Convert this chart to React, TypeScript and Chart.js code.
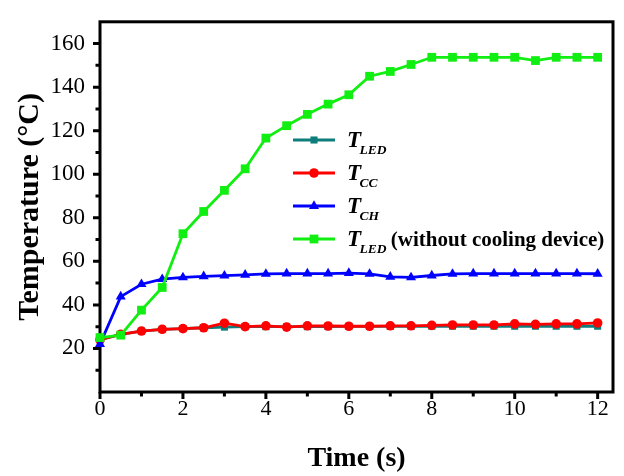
import { useEffect, useRef } from 'react';
import { Chart, registerables } from 'chart.js';

Chart.register(...registerables);

// ---- data ----
const timeS = [0, 0.5, 1, 1.5, 2, 2.5, 3, 3.5, 4, 4.5, 5, 5.5, 6, 6.5, 7, 7.5, 8, 8.5, 9, 9.5, 10, 10.5, 11, 11.5, 12];
const tLED = [24, 26.5, 28, 28.8, 29.1, 29.5, 29.8, 30, 30, 30, 30, 30, 30.1, 30.1, 30.1, 30.1, 30.2, 30.2, 30.2, 30.2, 30.2, 30.2, 30.2, 30.2, 30.2];
const tCC = [24, 26.5, 28, 28.8, 29.1, 29.5, 31.6, 30, 30.4, 29.8, 30.4, 30.3, 30.2, 30.2, 30.4, 30.4, 30.6, 30.8, 30.8, 30.8, 31.3, 31.1, 31.3, 31.3, 31.7];
const tCH = [22, 43.8, 49.5, 51.8, 52.6, 53.1, 53.4, 53.8, 54.2, 54.4, 54.4, 54.4, 54.6, 54.2, 52.9, 52.6, 53.5, 54.2, 54.4, 54.4, 54.4, 54.4, 54.4, 54.4, 54.3];
const tLEDNoCooling = [25, 26.1, 37.6, 48, 72.7, 82.9, 92.6, 102.5, 116.6, 122.3, 127.5, 132.2, 136.5, 145, 147.2, 150.4, 153.7, 153.7, 153.7, 153.7, 153.7, 152.2, 153.7, 153.7, 153.7];

const legendMain = ['T', 'T', 'T', 'T'];
const legendSub = ['LED', 'CC', 'CH', 'LED'];
const legendSuffix = ['', '', '', ' (without cooling device)'];

const yTickValues = [20, 40, 60, 80, 100, 120, 140, 160];
const yMinorValues = [10, 30, 50, 70, 90, 110, 130, 150];
const xTickValues = [0, 2, 4, 6, 8, 10, 12];
const xMinorValues = [1, 3, 5, 7, 9, 11];

const xTitle = 'Time (s)';
const yTitle = 'Temperature (°C)';

const colors = ['#0E7D7C', '#FF0000', '#0000FF', '#11EE11'];
const pointStyles = ['rect', 'circle', 'triangle', 'rect'];
const pointRadii = [5, 4.8, 5.8, 6.2];

const SERIF = "'Liberation Serif', 'DejaVu Serif', serif";

function drawMarker(ctx: CanvasRenderingContext2D, style: string, x: number, y: number, r: number, color: string) {
  ctx.save();
  ctx.fillStyle = color;
  ctx.beginPath();
  if (style === 'rect') {
    const s = Math.SQRT1_2 * r;
    ctx.rect(x - s, y - s, 2 * s, 2 * s);
  } else if (style === 'circle') {
    ctx.arc(x, y, r, 0, Math.PI * 2);
  } else {
    const h = r * 1.5;
    const w = r * Math.sqrt(3) / 2;
    ctx.moveTo(x, y - r);
    ctx.lineTo(x + w, y + h - r);
    ctx.lineTo(x - w, y + h - r);
    ctx.closePath();
  }
  ctx.fill();
  ctx.restore();
}

const framePlugin = {
  id: 'frameTicks',
  beforeDatasetsDraw(chart: any) {
    const { ctx, chartArea } = chart;
    const xs = chart.scales.x;
    const ys = chart.scales.y;
    ctx.save();
    ctx.strokeStyle = '#000';
    ctx.lineWidth = 3;
    ctx.strokeRect(chartArea.left, chartArea.top, chartArea.right - chartArea.left, chartArea.bottom - chartArea.top);
    ctx.beginPath();
    for (const v of xTickValues) {
      const px = xs.getPixelForValue(v);
      ctx.moveTo(px, chartArea.bottom);
      ctx.lineTo(px, chartArea.bottom + 7);
    }
    for (const v of xMinorValues) {
      const px = xs.getPixelForValue(v);
      ctx.moveTo(px, chartArea.bottom);
      ctx.lineTo(px, chartArea.bottom + 4.5);
    }
    for (const v of yTickValues) {
      const py = ys.getPixelForValue(v);
      ctx.moveTo(chartArea.left, py);
      ctx.lineTo(chartArea.left - 7, py);
    }
    for (const v of yMinorValues) {
      const py = ys.getPixelForValue(v);
      ctx.moveTo(chartArea.left, py);
      ctx.lineTo(chartArea.left - 4.5, py);
    }
    ctx.stroke();
    ctx.restore();
  },
};

const legendPlugin = {
  id: 'customLegend',
  afterDraw(chart: any) {
    const { ctx } = chart;
    const x0 = 293;
    const x1 = 335;
    const rows = [140, 173, 206, 239];
    ctx.save();
    chart.data.datasets.forEach((ds: any, i: number) => {
      const y = rows[i];
      ctx.strokeStyle = ds.borderColor;
      ctx.lineWidth = 2.8;
      ctx.beginPath();
      ctx.moveTo(x0, y);
      ctx.lineTo(x1, y);
      ctx.stroke();
      drawMarker(ctx, pointStyles[i], (x0 + x1) / 2, y, pointRadii[i], ds.borderColor);
      ctx.fillStyle = '#000';
      ctx.textBaseline = 'alphabetic';
      ctx.textAlign = 'left';
      let tx = 347;
      ctx.font = `italic bold 23px ${SERIF}`;
      ctx.fillText(legendMain[i], tx, y + 7);
      tx += ctx.measureText(legendMain[i]).width - 1.5;
      ctx.font = `italic bold 13.5px ${SERIF}`;
      ctx.fillText(legendSub[i], tx, y + 14);
      tx += ctx.measureText(legendSub[i]).width - 1;
      if (legendSuffix[i]) {
        ctx.font = `bold 21px ${SERIF}`;
        ctx.fillText(legendSuffix[i], tx, y + 7);
      }
    });
    ctx.restore();
  },
};

export default function App() {
  const ref = useRef<HTMLCanvasElement>(null);
  useEffect(() => {
    if (!ref.current) return;
    const series = [tLED, tCC, tCH, tLEDNoCooling];
    const orders = [3, 2, 1, 0];
    const chart = new Chart(ref.current, {
      type: 'line',
      data: {
        datasets: series.map((vals, i) => ({
          label: legendMain[i] + legendSub[i] + legendSuffix[i],
          data: timeS.map((t, j) => ({ x: t, y: vals[j] })),
          borderColor: colors[i],
          backgroundColor: colors[i],
          pointBackgroundColor: colors[i],
          pointBorderColor: colors[i],
          pointBorderWidth: 0,
          pointStyle: pointStyles[i] as any,
          pointRadius: pointRadii[i],
          borderWidth: 2.8,
          tension: 0,
          clip: false as any,
          order: orders[i],
        })),
      },
      options: {
        animation: false,
        responsive: false,
        layout: { padding: { top: 8, right: 11, left: 0, bottom: 0 } },
        plugins: { legend: { display: false }, tooltip: { enabled: false } },
        scales: {
          x: {
            type: 'linear',
            min: 0,
            max: 12.37,
            afterBuildTicks: (s: any) => { s.ticks = xTickValues.map((v) => ({ value: v })); },
            afterFit: (s: any) => { s.height = 84; },
            grid: { display: true, drawOnChartArea: false, drawTicks: true, tickLength: 4, color: 'rgba(0,0,0,0)' },
            border: { display: false },
            ticks: { color: '#000', font: { family: SERIF, size: 22 }, padding: 0, maxRotation: 0, autoSkip: false },
            title: { display: true, text: xTitle, color: '#000', font: { family: SERIF, size: 28, weight: 'bold' }, padding: { top: 0, bottom: 0 } },
          },
          y: {
            type: 'linear',
            min: 0,
            max: 170,
            afterBuildTicks: (s: any) => { s.ticks = yTickValues.map((v) => ({ value: v })); },
            afterFit: (s: any) => { s.width = 100; },
            grid: { display: true, drawOnChartArea: false, drawTicks: true, tickLength: 7, color: 'rgba(0,0,0,0)' },
            border: { display: false },
            ticks: { color: '#000', font: { family: SERIF, size: 23 }, padding: 8, autoSkip: false },
            title: { display: true, text: yTitle, color: '#000', font: { family: SERIF, size: 30, weight: 'bold' }, padding: { top: 12, bottom: 0 } },
          },
        },
      },
      plugins: [framePlugin, legendPlugin],
    });
    return () => chart.destroy();
  }, []);
  return (
    <div style={{ position: 'absolute', left: 0, top: 0, width: 624, height: 476 }}>
      <canvas ref={ref} width={624} height={476} style={{ width: 624, height: 476, display: 'block' }} />
    </div>
  );
}
